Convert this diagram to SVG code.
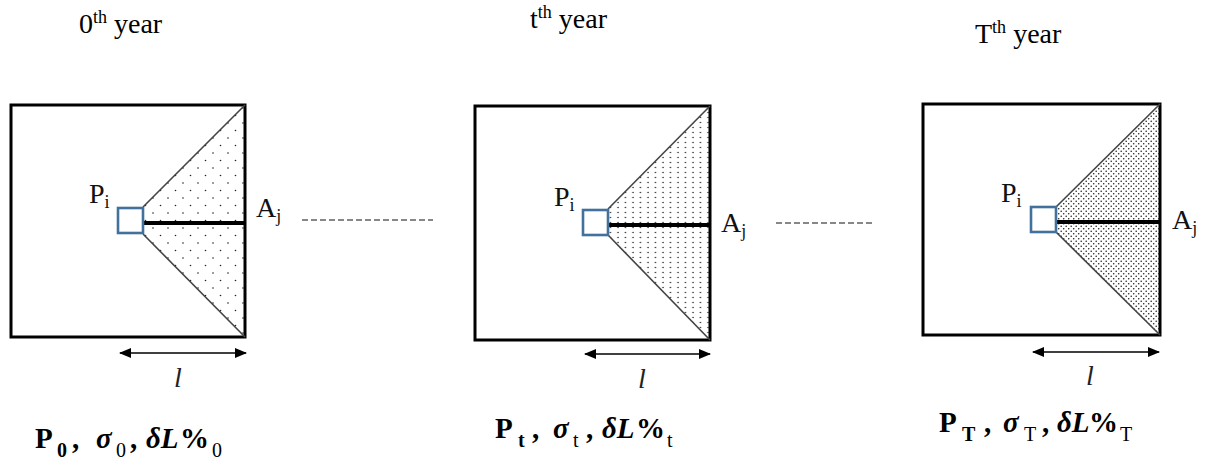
<svg xmlns="http://www.w3.org/2000/svg" width="1207" height="461" viewBox="0 0 1207 461">
<style>
.box{fill:#fff;stroke:#000;stroke-width:3}
.sq{fill:#fff;stroke:#41719C;stroke-width:2.6}
.edge{stroke:#444;stroke-width:1.6;fill:none}
.thick{stroke:#000;stroke-width:4}
.dash{stroke:#111;stroke-width:1.2;stroke-dasharray:6,3}
.arr{stroke:#000;stroke-width:1.6;marker-start:url(#ah);marker-end:url(#ah)}
text{font-family:"Liberation Serif","Times New Roman","DejaVu Serif",serif}
.yr{font-size:28px;fill:#000}
.sup{font-size:18px}
.lab{font-size:28px;fill:#111}
.sub{font-size:18px}
.ell{font-style:italic;font-size:28px;fill:#222}
.form{font-size:29px;font-weight:bold;fill:#000}
.fs{font-size:20px;font-weight:normal}
.fsb{font-size:20px}
.bi{font-style:italic}
</style>
<defs>
<marker id="ah" viewBox="0 0 12 10" refX="11" refY="5" markerWidth="12" markerHeight="10" markerUnits="userSpaceOnUse" orient="auto-start-reverse">
<path d="M0,0 L12,5 L0,10 Z" fill="#000"/>
</marker>
<pattern id="p1" width="15" height="15" patternUnits="userSpaceOnUse">
<circle cx="3" cy="3" r="0.8" fill="#222"/>
<circle cx="10.5" cy="10.5" r="0.8" fill="#222"/>
</pattern>
<pattern id="p2" width="7.5" height="5" patternUnits="userSpaceOnUse">
<circle cx="3" cy="2.5" r="0.8" fill="#222"/>
</pattern>
<pattern id="p3" width="5" height="5" patternUnits="userSpaceOnUse">
<circle cx="1.2" cy="1.2" r="0.8" fill="#222"/>
<circle cx="3.7" cy="3.7" r="0.8" fill="#222"/>
</pattern>
</defs>

<g id="year0">
<text class="yr" x="79" y="33">0<tspan class="sup" dy="-10">th</tspan><tspan dy="10"> year</tspan></text>
</g>
<g id="yeart">
<text class="yr" x="530" y="28">t<tspan class="sup" dy="-10">th</tspan><tspan dy="10"> year</tspan></text>
</g>
<g id="yearT">
<text class="yr" x="975" y="43">T<tspan class="sup" dy="-10">th</tspan><tspan dy="10"> year</tspan></text>
</g>

<g id="node0">
<rect class="box" x="11" y="105" width="234" height="232"/>
<polygon points="143,207 245,105 245,337 143,234" fill="url(#p1)"/>
<polyline class="edge" points="143,207 245,105"/>
<polyline class="edge" points="143,234 245,337"/>
<line class="thick" x1="143" y1="223" x2="245" y2="223"/>
<rect class="sq" x="118" y="208" width="25" height="25"/>
<text class="lab" x="89" y="203">P<tspan class="sub" dy="5">i</tspan></text>
<text class="lab" x="256" y="217">A<tspan class="sub" dy="5">j</tspan></text>
<line class="arr" x1="120" y1="353" x2="246" y2="353"/>
<text class="ell" x="174" y="387">l</text>
<text class="form" y="448"><tspan x="35">P</tspan><tspan class="fsb" x="57" dy="9">0</tspan><tspan x="72" dy="-9">,</tspan><tspan class="bi" x="96">σ</tspan><tspan class="fs" x="116" dy="9">0</tspan><tspan x="130" dy="-9">,</tspan><tspan class="bi" x="146">δL</tspan><tspan x="180">%</tspan><tspan class="fs" x="212" dy="9">0</tspan></text>
</g>

<g id="nodet">
<rect class="box" x="475" y="106" width="235" height="234"/>
<polygon points="608,209 710,106 710,340 608,235" fill="url(#p2)"/>
<polyline class="edge" points="608,209 710,106"/>
<polyline class="edge" points="608,235 710,340"/>
<line class="thick" x1="608" y1="225" x2="710" y2="225"/>
<rect class="sq" x="583" y="210" width="25" height="25"/>
<text class="lab" x="554" y="206">P<tspan class="sub" dy="5">i</tspan></text>
<text class="lab" x="721" y="232">A<tspan class="sub" dy="5">j</tspan></text>
<line class="arr" x1="585" y1="354" x2="710" y2="354"/>
<text class="ell" x="638" y="388">l</text>
<text class="form" y="438"><tspan x="495">P</tspan><tspan class="fsb" x="518" dy="9">t</tspan><tspan x="532" dy="-9">,</tspan><tspan class="bi" x="553">σ</tspan><tspan class="fs" x="573" dy="9">t</tspan><tspan x="586" dy="-9">,</tspan><tspan class="bi" x="602">δL</tspan><tspan x="636">%</tspan><tspan class="fs" x="667" dy="9">t</tspan></text>
</g>

<g id="nodeT">
<rect class="box" x="923" y="104" width="237" height="231"/>
<polygon points="1056,207 1160,104 1160,335 1056,232" fill="url(#p3)"/>
<polyline class="edge" points="1056,207 1160,104"/>
<polyline class="edge" points="1056,232 1160,335"/>
<line class="thick" x1="1056" y1="222" x2="1160" y2="222"/>
<rect class="sq" x="1031" y="207" width="25" height="25"/>
<text class="lab" x="1001" y="202">P<tspan class="sub" dy="5">i</tspan></text>
<text class="lab" x="1172" y="229">A<tspan class="sub" dy="5">j</tspan></text>
<line class="arr" x1="1033" y1="352" x2="1159" y2="352"/>
<text class="ell" x="1086" y="385">l</text>
<text class="form" y="432"><tspan x="939">P</tspan><tspan class="fsb" x="962" dy="9">T</tspan><tspan x="984" dy="-9">,</tspan><tspan class="bi" x="1003">σ</tspan><tspan class="fs" x="1024" dy="9">T</tspan><tspan x="1042" dy="-9">,</tspan><tspan class="bi" x="1057">δL</tspan><tspan x="1089">%</tspan><tspan class="fs" x="1120" dy="9">T</tspan></text>
</g>

<g id="connectors">
<line class="dash" x1="302" y1="220" x2="433" y2="220"/>
<line class="dash" x1="776" y1="223" x2="875" y2="223"/>
</g>
</svg>
